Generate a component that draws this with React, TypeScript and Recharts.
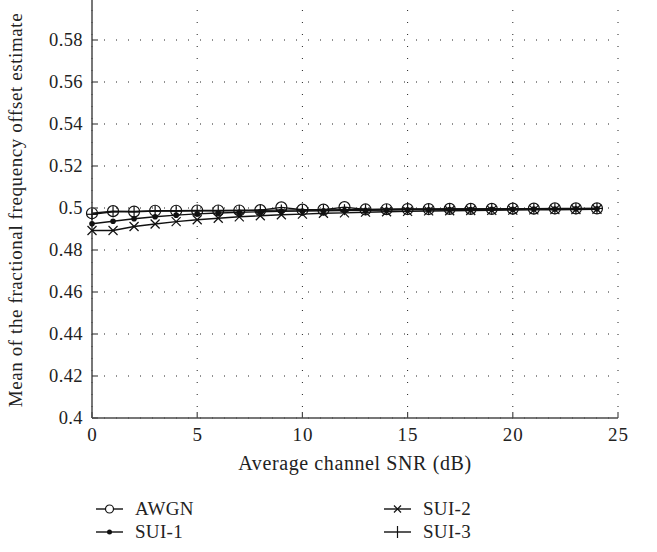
import React from "react";
import {
  LineChart,
  Line,
  XAxis,
  YAxis,
  CartesianGrid,
  Label,
} from "recharts";

// SNR points (dB)
const snr = [0, 1, 2, 3, 4, 5, 6, 7, 8, 9, 10, 11, 12, 13, 14, 15, 16, 17, 18, 19, 20, 21, 22, 23, 24];

const awgn = [0.4975, 0.4985, 0.4983, 0.4987, 0.4987, 0.4988, 0.4988, 0.4988, 0.499, 0.5003, 0.4992, 0.4992, 0.5004, 0.4993, 0.4994, 0.4995, 0.4995, 0.4996, 0.4996, 0.4996, 0.4997, 0.4997, 0.4998, 0.4998, 0.4998];
const sui1 = [0.4925, 0.4937, 0.4949, 0.4958, 0.4966, 0.4972, 0.4976, 0.4979, 0.4982, 0.4984, 0.4986, 0.4987, 0.4988, 0.4989, 0.499, 0.4991, 0.4992, 0.4993, 0.4993, 0.4994, 0.4994, 0.4995, 0.4995, 0.4996, 0.4996];
const sui2 = [0.4893, 0.4893, 0.4912, 0.4924, 0.4935, 0.4944, 0.4951, 0.4958, 0.4963, 0.4968, 0.4971, 0.4975, 0.4977, 0.498, 0.4982, 0.4984, 0.4986, 0.4987, 0.4988, 0.4989, 0.499, 0.4991, 0.4992, 0.4993, 0.4994];
const sui3 = [0.497, 0.4982, 0.4982, 0.4985, 0.4986, 0.4987, 0.4987, 0.4988, 0.4989, 0.499, 0.4991, 0.4991, 0.4992, 0.4992, 0.4993, 0.4994, 0.4994, 0.4995, 0.4995, 0.4996, 0.4996, 0.4997, 0.4997, 0.4997, 0.4998];

const xTicks = [0, 5, 10, 15, 20, 25];
const yTicks = [0.4, 0.42, 0.44, 0.46, 0.48, 0.5, 0.52, 0.54, 0.56, 0.58, 0.6];

const data = snr.map((s, i) => ({
  snr: s,
  awgn: awgn[i],
  sui1: sui1[i],
  sui2: sui2[i],
  sui3: sui3[i],
}));

const FONT = "'Liberation Serif', 'Times New Roman', serif";
const INK = "#111";
const AXIS = "#4a4a4a";
const TXT = "#222";

// markers
const circleDot = (p: any) => (
  <circle key={p.key} cx={p.cx} cy={p.cy} r={5.5} fill="none" stroke={INK} strokeWidth={1.2} />
);
const fillDot = (p: any) => <circle key={p.key} cx={p.cx} cy={p.cy} r={2.8} fill={INK} />;
const crossDot = (p: any) => (
  <g key={p.key} stroke={INK} strokeWidth={1.2}>
    <line x1={p.cx - 4.5} y1={p.cy - 4.5} x2={p.cx + 4.5} y2={p.cy + 4.5} />
    <line x1={p.cx - 4.5} y1={p.cy + 4.5} x2={p.cx + 4.5} y2={p.cy - 4.5} />
  </g>
);
const plusDot = (p: any) => (
  <g key={p.key} stroke={INK} strokeWidth={1.2}>
    <line x1={p.cx - 5.5} y1={p.cy} x2={p.cx + 5.5} y2={p.cy} />
    <line x1={p.cx} y1={p.cy - 5.5} x2={p.cx} y2={p.cy + 5.5} />
  </g>
);

const fmtY = (v: number) => String(Number(v.toFixed(2)));

// inward ticks + labels
const BottomTick = ({ x, y, payload }: any) => (
  <g>
    <line x1={x} x2={x} y1={y} y2={y - 6} stroke={AXIS} strokeWidth={1.2} />
    <text x={x + 0.5} y={y + 16} textAnchor="middle" dominantBaseline="central" fontFamily={FONT} fontSize={19} letterSpacing={1} fill={TXT}>
      {payload.value}
    </text>
  </g>
);
const TopTick = ({ x, y }: any) => <line x1={x} x2={x} y1={y} y2={y + 6} stroke={AXIS} strokeWidth={1.2} />;
const LeftTick = ({ x, y, payload }: any) => (
  <g>
    <line x1={x} x2={x + 6} y1={y} y2={y} stroke={AXIS} strokeWidth={1.2} />
    {payload.value < 0.59 && (
      <text x={x - 9} y={y} textAnchor="end" dominantBaseline="central" fontFamily={FONT} fontSize={18.5} letterSpacing={0.4} fill={TXT}>
        {fmtY(payload.value)}
      </text>
    )}
  </g>
);
const RightTick = ({ x, y }: any) => <line x1={x} x2={x - 6} y1={y} y2={y} stroke={AXIS} strokeWidth={1.2} />;

const legendItems = [
  { name: "AWGN", shape: "circle", left: 96, top: 509 },
  { name: "SUI-1", shape: "dot", left: 96, top: 532 },
  { name: "SUI-2", shape: "cross", left: 384, top: 509 },
  { name: "SUI-3", shape: "plus", left: 384, top: 532 },
];

const LegendIcon = ({ shape }: { shape: string }) => (
  <svg width={27} height={14} style={{ display: "block" }}>
    <line x1={0} x2={27} y1={7} y2={7} stroke={INK} strokeWidth={1.4} />
    {shape === "circle" && <circle cx={13.5} cy={7} r={4} fill="#fff" stroke={INK} strokeWidth={1.2} />}
    {shape === "dot" && <circle cx={13.5} cy={7} r={2.5} fill={INK} />}
    {shape === "cross" && (
      <g stroke={INK} strokeWidth={1.2}>
        <line x1={10} y1={3.5} x2={17} y2={10.5} />
        <line x1={10} y1={10.5} x2={17} y2={3.5} />
      </g>
    )}
    {shape === "plus" && (
      <g stroke={INK} strokeWidth={1.2}>
        <line x1={13.5} y1={1} x2={13.5} y2={13} />
      </g>
    )}
  </svg>
);

export default function App() {
  return (
    <div style={{ position: "absolute", left: 0, top: 0, width: 657, height: 552, overflow: "hidden", background: "#fff" }}>
      <div style={{ position: "absolute", left: 0, top: -2 }}>
        <LineChart width={657} height={554} data={data} margin={{ top: 0, right: 39, bottom: 104, left: 32 }}>
          <CartesianGrid stroke="#222" strokeWidth={1} strokeDasharray="1 11" />
          <XAxis
            dataKey="snr"
            type="number"
            domain={[0, 25]}
            ticks={xTicks}
            interval={0}
            height={30}
            tickSize={0}
            tickMargin={0}
            tickLine={false}
            tick={<BottomTick />}
            axisLine={{ stroke: AXIS, strokeWidth: 1.5 }}
          >
            <Label
              content={({ viewBox }: any) => (
                <text
                  x={viewBox.x + viewBox.width / 2}
                  y={viewBox.y + 45}
                  textAnchor="middle"
                  dominantBaseline="central"
                  fontFamily={FONT}
                  fontSize={20}
                  letterSpacing={0.6}
                  fill={TXT}
                >
                  Average channel SNR (dB)
                </text>
              )}
            />
          </XAxis>
          <XAxis
            xAxisId="top"
            orientation="top"
            dataKey="snr"
            type="number"
            domain={[0, 25]}
            ticks={xTicks}
            interval={0}
            height={0}
            tickSize={0}
            tickMargin={0}
            tickLine={false}
            tick={<TopTick />}
            axisLine={{ stroke: AXIS, strokeWidth: 1.5 }}
          />
          <YAxis
            type="number"
            domain={[0.4, 0.6]}
            ticks={yTicks}
            interval={0}
            width={60}
            tickSize={0}
            tickMargin={0}
            tickLine={false}
            tick={<LeftTick />}
            axisLine={{ stroke: AXIS, strokeWidth: 1.5 }}
          >
            <Label
              content={({ viewBox }: any) => {
                const cx = viewBox.x - 17;
                const cy = viewBox.y + viewBox.height / 2 + 2;
                return (
                  <text
                    x={cx}
                    y={cy}
                    transform={`rotate(-90, ${cx}, ${cy})`}
                    textAnchor="middle"
                    dominantBaseline="central"
                    fontFamily={FONT}
                    fontSize={19}
                    letterSpacing={0.6}
                    fill={TXT}
                  >
                    Mean of the fractional frequency offset estimate
                  </text>
                );
              }}
            />
          </YAxis>
          <YAxis
            yAxisId="right"
            orientation="right"
            type="number"
            domain={[0.4, 0.6]}
            ticks={yTicks}
            interval={0}
            width={0}
            tickSize={0}
            tickMargin={0}
            tickLine={false}
            tick={<RightTick />}
            axisLine={{ stroke: AXIS, strokeWidth: 1.5 }}
          />
          <Line dataKey="sui2" type="linear" stroke={INK} strokeWidth={1.4} dot={crossDot} isAnimationActive={false} />
          <Line dataKey="sui1" type="linear" stroke={INK} strokeWidth={1.4} dot={fillDot} isAnimationActive={false} />
          <Line dataKey="sui3" type="linear" stroke={INK} strokeWidth={1.4} dot={plusDot} isAnimationActive={false} />
          <Line dataKey="awgn" type="linear" stroke={INK} strokeWidth={1.4} dot={circleDot} isAnimationActive={false} />
        </LineChart>
      </div>
      {legendItems.map((it) => (
        <div
          key={it.name}
          style={{
            position: "absolute",
            left: it.left,
            top: it.top - 11,
            height: 22,
            display: "flex",
            alignItems: "center",
            fontFamily: FONT,
            fontSize: 19,
            letterSpacing: 0.3,
            color: TXT,
          }}
        >
          <LegendIcon shape={it.shape} />
          <span style={{ marginLeft: 12 }}>{it.name}</span>
        </div>
      ))}
    </div>
  );
}
